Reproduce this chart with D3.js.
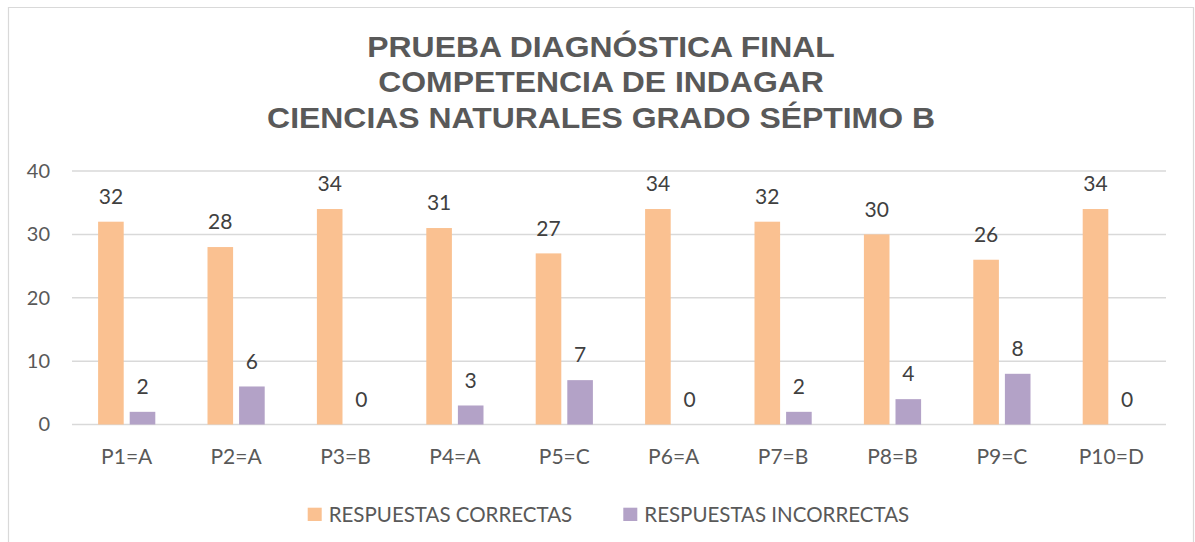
<!DOCTYPE html>
<html><head><meta charset="utf-8">
<script src="https://cdn.jsdelivr.net/npm/d3@7"></script>
<style>body{margin:0;background:#fff;}svg{display:block;}</style>
</head><body>
<script>
const categories = ["P1=A","P2=A","P3=B","P4=A","P5=C","P6=A","P7=B","P8=B","P9=C","P10=D"];
const correctas = [32,28,34,31,27,34,32,30,26,34];
const incorrectas = [2,6,0,3,7,0,2,4,8,0];
const seriesNames = ["RESPUESTAS CORRECTAS","RESPUESTAS INCORRECTAS"];
const yTicks = [0,10,20,30,40];
const titleLines = ["PRUEBA DIAGNÓSTICA FINAL","COMPETENCIA DE INDAGAR","CIENCIAS NATURALES GRADO SÉPTIMO B"];

const W = 1195, H = 542;
const colors = ["#FAC191","#B3A2C7"];
const font = "Lato, 'Open Sans', sans-serif";
const svg = d3.select("body").append("svg").attr("width",W).attr("height",H);
svg.append("rect").attr("width",W).attr("height",H).attr("fill","#fff");
svg.append("path").attr("d",`M8.5,${H} V7.5 H1193.5 V${H}`).attr("fill","none").attr("stroke","#d9d9d9").attr("stroke-width",1.2);

const x = d3.scaleBand().domain(categories).range([72,1166]);
const y = d3.scaleLinear().domain([0,40]).range([424.5,171]);
const barW = 25.6, gap = 6;

// title
svg.append("g").attr("transform","translate(601,0) scale(1.064,1)")
  .selectAll("text").data(titleLines).join("text")
  .attr("x",0).attr("y",(d,i)=>56.7+i*35.8).attr("text-anchor","middle")
  .attr("font-family","'Liberation Sans', Arial, sans-serif").attr("font-weight","bold")
  .attr("font-size",30).attr("fill","#595959").text(d=>d);

// grid
svg.append("g").selectAll("line").data(yTicks).join("line")
  .attr("x1",72).attr("x2",1166).attr("y1",d=>y(d)).attr("y2",d=>y(d))
  .attr("stroke","#d9d9d9").attr("stroke-width",1.5);

// y axis labels
const yAxis = d3.axisLeft(y).tickValues(yTicks).tickSize(0).tickPadding(0);
const ya = svg.append("g").attr("transform","translate(50,0)").call(yAxis);
ya.select(".domain").remove();
ya.selectAll("text").attr("font-family",font).attr("font-size",20).attr("fill","#595959");

// x axis labels
const xAxis = d3.axisBottom(x).tickSize(0).tickPadding(0);
const xa = svg.append("g").attr("transform","translate(0,0)").call(xAxis);
xa.select(".domain").remove();
xa.selectAll("text").attr("dy",null).attr("y",464).attr("font-family",font).attr("font-size",21).attr("fill","#595959");

const series = [correctas, incorrectas];
series.forEach((vals, s) => {
  const off = s===0 ? -(barW+gap/2) : gap/2;
  const g = svg.append("g");
  g.selectAll("rect").data(vals).join("rect")
    .attr("x",(d,i)=>x(categories[i])+x.bandwidth()/2+off)
    .attr("y",d=>y(d)).attr("width",barW).attr("height",d=>y(0)-y(d))
    .attr("fill",colors[s]);
  g.selectAll("text").data(vals).join("text")
    .attr("x",(d,i)=>x(categories[i])+x.bandwidth()/2+off+barW/2)
    .attr("y",d=>y(d)-17.7).attr("text-anchor","middle")
    .attr("font-family",font).attr("font-size",21).attr("fill","#404040").text(d=>d);
});

// legend
const legX = [307.7, 623.3];
const lg = svg.append("g");
seriesNames.forEach((n,i)=>{
  lg.append("rect").attr("x",legX[i]).attr("y",507.7).attr("width",14).attr("height",13.3).attr("fill",colors[i]);
  lg.append("text").attr("x",legX[i]+21).attr("y",522.3).attr("font-family",font).attr("font-size",20.5).attr("fill","#595959").text(n);
});
</script>
</body></html>
